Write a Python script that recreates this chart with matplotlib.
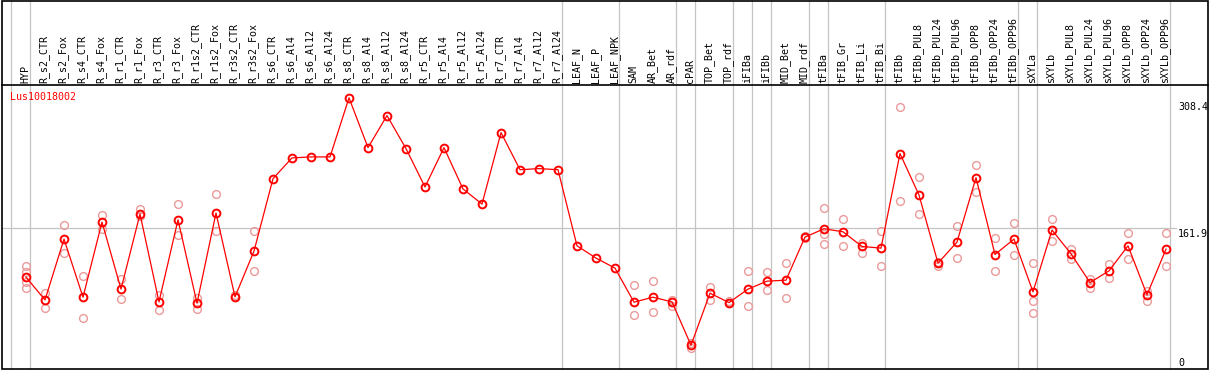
import numpy as np
import matplotlib
matplotlib.use("Agg")
import matplotlib.pyplot as plt
from matplotlib.patches import Rectangle
from matplotlib.lines import Line2D
import matplotlib.transforms as mtransforms

# sample names along the x axis
samples = [
    "HYP", "R_s2_CTR", "R_s2_Fox", "R_s4_CTR", "R_s4_Fox", "R_r1_CTR", "R_r1_Fox",
    "R_r3_CTR", "R_r3_Fox", "R_r1s2_CTR", "R_r1s2_Fox", "R_r3s2_CTR", "R_r3s2_Fox",
    "R_s6_CTR", "R_s6_Al4", "R_s6_Al12", "R_s6_Al24", "R_s8_CTR", "R_s8_Al4",
    "R_s8_Al12", "R_s8_Al24", "R_r5_CTR", "R_r5_Al4", "R_r5_Al12", "R_r5_Al24",
    "R_r7_CTR", "R_r7_Al4", "R_r7_Al12", "R_r7_Al24", "LEAF_N", "LEAF_P", "LEAF_NPK",
    "SAM", "AR_Bet", "AR_rdf", "cPAR", "TOP_Bet", "TOP_rdf", "iFIBa", "iFIBb",
    "MID_Bet", "MID_rdf", "tFIBa", "tFIB_Gr", "tFIB_Li", "tFIB_Bi", "tFIBb",
    "tFIBb_PUL8", "tFIBb_PUL24", "tFIBb_PUL96", "tFIBb_OPP8", "tFIBb_OPP24",
    "tFIBb_OPP96", "sXYLa", "sXYLb", "sXYLb_PUL8", "sXYLb_PUL24", "sXYLb_PUL96",
    "sXYLb_OPP8", "sXYLb_OPP24", "sXYLb_OPP96",
]

# mean expression per sample
means = [
    102.8, 75.4, 148.7, 78.7, 169.2, 88.4, 178.9, 73.0, 172.0, 71.5, 180.1, 79.1, 134.2,
    221.5, 246.5, 247.7, 247.7, 318.9, 258.9, 297.5, 257.7, 211.5, 258.9, 209.1, 190.9,
    277.0, 232.3, 233.6, 232.3, 140.6, 125.8, 113.7,
    72.7, 78.7, 73.0, 20.8, 83.5, 72.2, 88.4, 98.0, 99.2, 151.1, 161.1, 157.5, 139.8,
    137.8, 251.7, 201.8, 119.7, 145.1, 222.7, 130.1, 148.7,
    85.1, 159.6, 131.0, 96.3, 110.4, 140.6, 81.5, 136.6,
]

# individual replicates (empty where none are shown)
replicates = [
    [116.5, 108.9, 97.5, 89.6], [83.5, 65.4], [165.6, 131.8], [104.0, 53.7],
    [178.0, 161.1], [100.4, 76.3], [184.9, 176.8], [81.5, 63.4], [190.9, 153.5],
    [77.5, 64.2], [203.0, 157.9], [81.5, 78.7], [157.9, 110.1],
    [], [], [], [], [], [], [], [], [], [], [], [], [], [], [], [], [], [], [],
    [93.5, 57.3], [98.4, 60.6], [75.4, 68.6], [23.9, 17.9], [91.1, 75.8],
    [73.6, 71.2], [110.1, 67.8], [108.9, 87.1], [120.1, 77.5], [152.7, 149.4],
    [186.5, 155.1, 143.0], [173.2, 140.6], [143.9, 132.5], [158.4, 116.5],
    [308.4, 194.9], [223.5, 179.2], [121.3, 116.5], [163.9, 125.8], [238.0, 205.4],
    [149.9, 110.4], [168.0, 129.4],
    [120.1, 73.9, 59.4], [172.8, 145.8], [137.0, 124.9], [101.1, 89.9],
    [118.9, 101.6], [155.9, 124.6], [86.7, 74.6], [155.9, 116.5],
]

# index of the last sample in each group (grey separators)
group_ends = [-1, 0, 28, 31, 34, 35, 37, 38, 39, 41, 42, 45, 52, 53, 60]
ref_level = 161.9
y_labels = [0, 161.9, 308.4]
gene = "Lus10018002"

W, H = 1209, 370
fig = plt.figure(figsize=(W / 100, H / 100), dpi=100)
mono = "DejaVu Sans Mono"
fs = 7.2
pink = "#EB9A9A"
grey = "#C4C4C4"

# plot area in pixel coords: x 1..1208, y 85..369
ax = fig.add_axes([1 / W, 1 - 369 / H, 1207 / W, 284 / H])
x0, step = 26, 19
ax.set_xlim((1 - x0) / step, (1208 - x0) / step)
zero_px, k = 362.5, 0.83
ax.set_ylim(-(369 - zero_px) / k, (zero_px - 85) / k)
ax.axis("off")

x = np.arange(len(samples))

# group separators run through the label band as well
top = 1 + 85 / 284
for g in group_ends:
    ax.axvline(g + 0.23, ymin=0, ymax=top, color=grey, lw=0.9, clip_on=False, zorder=1)
ax.plot([ax.get_xlim()[0], 60.55], [ref_level, ref_level], color=grey, lw=0.9, zorder=1)

rx = [i for i, r in enumerate(replicates) for _ in r]
ry = [v for r in replicates for v in r]
ax.plot(rx, ry, ls="none", marker="o", ms=5.6, mfc="none", mec=pink, mew=1.0, zorder=2)

ax.plot(x, means, color="red", lw=0.9, marker="o", ms=5.6, mfc="none",
        mec="red", mew=1.4, zorder=3)

# sample labels, rotated, above the plot area
trans = mtransforms.blended_transform_factory(ax.transData, ax.transAxes)
for i, name in enumerate(samples):
    ax.text(i - 0.05, 1 + 2 / 284, name, rotation=90, ha="center", va="bottom",
            family=mono, fontsize=fs, transform=trans, clip_on=False)

ax.text((10 - x0) / step, (zero_px - 97) / k, gene, color="red", family=mono,
        fontsize=fs, ha="left", va="center")

lx = (1178 - x0) / step
ax.text(lx, y_labels[0], "0", family=mono, fontsize=fs, ha="left", va="center")
ax.text(lx, y_labels[1] - 1.5, "%.1f" % y_labels[1], family=mono, fontsize=fs,
        ha="left", va="top")
ax.text(lx, y_labels[2], "%.1f" % y_labels[2], family=mono, fontsize=fs,
        ha="left", va="center")

# outer frame and the line under the labels
fig.add_artist(Rectangle((1.5 / W, 1.5 / H), 1206 / W, 367.5 / H, transform=fig.transFigure,
                         fill=False, ec="black", lw=1.2))
fig.add_artist(Line2D([1.5 / W, 1207.5 / W], [1 - 85 / H, 1 - 85 / H],
                      transform=fig.transFigure, color="black", lw=1.2))

fig.savefig("out.png", dpi=100)
